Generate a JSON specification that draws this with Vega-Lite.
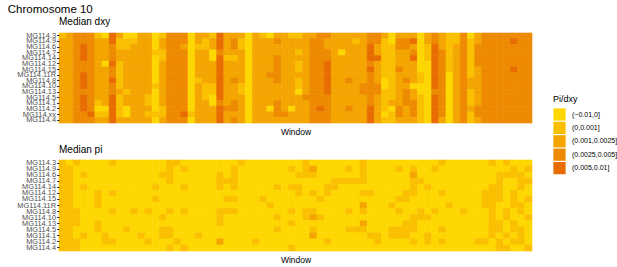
{
"$schema":"https://vega.github.io/schema/vega-lite/v6.json",
"padding":{"left":7,"top":3,"right":5,"bottom":4},
"background":"white",
"title":{"text":"Chromosome 10","anchor":"start","frame":"bounds","dx":-9,"font":"Liberation Sans","fontSize":11.5,"fontWeight":"normal","color":"#000000","offset":2},
"config":{
 "view":{"stroke":null},
 "font":"Liberation Sans",
 "title":{"font":"Liberation Sans","fontWeight":"normal","color":"#000000"},
 "axis":{"grid":false,"domain":false,"titleFont":"Liberation Sans","titleFontWeight":"normal","titleColor":"#000000","titleFontSize":8.5,"labelFont":"Liberation Sans"},
 "legend":{"titleFont":"Liberation Sans","labelFont":"Liberation Sans"}
},
"data":{"values":[
{"w":1,"s":"3","d":1,"p":1},{"w":1,"s":"9","d":2,"p":1},{"w":1,"s":"6","d":2,"p":1},{"w":1,"s":"7","d":2,"p":1},{"w":1,"s":"14","d":2,"p":1},{"w":1,"s":"12","d":2,"p":1},{"w":1,"s":"15","d":2,"p":1},{"w":1,"s":"11R","d":2,"p":1},{"w":1,"s":"8","d":2,"p":1},{"w":1,"s":"10","d":2,"p":1},{"w":1,"s":"13","d":2,"p":1},{"w":1,"s":"5","d":2,"p":1},{"w":1,"s":"1","d":2,"p":1},{"w":1,"s":"2","d":2,"p":1},{"w":1,"s":"xx","d":2},{"w":1,"s":"4","d":2,"p":1},
{"w":2,"s":"3","d":2,"p":0},{"w":2,"s":"9","d":2,"p":1},{"w":2,"s":"6","d":2,"p":1},{"w":2,"s":"7","d":2,"p":1},{"w":2,"s":"14","d":2,"p":1},{"w":2,"s":"12","d":2,"p":1},{"w":2,"s":"15","d":2,"p":1},{"w":2,"s":"11R","d":2,"p":1},{"w":2,"s":"8","d":2,"p":1},{"w":2,"s":"10","d":2,"p":1},{"w":2,"s":"13","d":2,"p":1},{"w":2,"s":"5","d":2,"p":1},{"w":2,"s":"1","d":2,"p":1},{"w":2,"s":"2","d":2,"p":1},{"w":2,"s":"xx","d":2},{"w":2,"s":"4","d":2,"p":1},
{"w":3,"s":"3","d":3,"p":1},{"w":3,"s":"9","d":3,"p":0},{"w":3,"s":"6","d":3,"p":0},{"w":3,"s":"7","d":3,"p":0},{"w":3,"s":"14","d":3,"p":0},{"w":3,"s":"12","d":3,"p":0},{"w":3,"s":"15","d":3,"p":0},{"w":3,"s":"11R","d":3,"p":0},{"w":3,"s":"8","d":3,"p":1},{"w":3,"s":"10","d":3,"p":1},{"w":3,"s":"13","d":3,"p":1},{"w":3,"s":"5","d":3,"p":0},{"w":3,"s":"1","d":3,"p":0},{"w":3,"s":"2","d":3,"p":1},{"w":3,"s":"xx","d":3},{"w":3,"s":"4","d":3,"p":1},
{"w":4,"s":"3","d":3,"p":0},{"w":4,"s":"9","d":3,"p":0},{"w":4,"s":"6","d":4,"p":1},{"w":4,"s":"7","d":4,"p":0},{"w":4,"s":"14","d":4,"p":1},{"w":4,"s":"12","d":3,"p":0},{"w":4,"s":"15","d":3,"p":0},{"w":4,"s":"11R","d":4,"p":0},{"w":4,"s":"8","d":4,"p":0},{"w":4,"s":"10","d":4,"p":0},{"w":4,"s":"13","d":3,"p":0},{"w":4,"s":"5","d":4,"p":0},{"w":4,"s":"1","d":4,"p":1},{"w":4,"s":"2","d":4,"p":0},{"w":4,"s":"xx","d":3},{"w":4,"s":"4","d":3,"p":0},
{"w":5,"s":"3","d":3,"p":0},{"w":5,"s":"9","d":3,"p":0},{"w":5,"s":"6","d":3,"p":0},{"w":5,"s":"7","d":3,"p":0},{"w":5,"s":"14","d":3,"p":0},{"w":5,"s":"12","d":3,"p":0},{"w":5,"s":"15","d":3,"p":0},{"w":5,"s":"11R","d":3,"p":0},{"w":5,"s":"8","d":3,"p":0},{"w":5,"s":"10","d":3,"p":0},{"w":5,"s":"13","d":3,"p":0},{"w":5,"s":"5","d":3,"p":0},{"w":5,"s":"1","d":3,"p":0},{"w":5,"s":"2","d":3,"p":0},{"w":5,"s":"xx","d":4},{"w":5,"s":"4","d":3,"p":0},
{"w":6,"s":"3","d":1,"p":0},{"w":6,"s":"9","d":2,"p":0},{"w":6,"s":"6","d":2,"p":0},{"w":6,"s":"7","d":2,"p":0},{"w":6,"s":"14","d":2,"p":0},{"w":6,"s":"12","d":2,"p":1},{"w":6,"s":"15","d":2,"p":1},{"w":6,"s":"11R","d":2,"p":1},{"w":6,"s":"8","d":2,"p":0},{"w":6,"s":"10","d":2,"p":0},{"w":6,"s":"13","d":2,"p":1},{"w":6,"s":"5","d":2,"p":1},{"w":6,"s":"1","d":1,"p":0},{"w":6,"s":"2","d":0,"p":0},{"w":6,"s":"xx","d":1},{"w":6,"s":"4","d":2,"p":0},
{"w":7,"s":"3","d":0,"p":0},{"w":7,"s":"9","d":2,"p":0},{"w":7,"s":"6","d":2,"p":0},{"w":7,"s":"7","d":2,"p":0},{"w":7,"s":"14","d":2,"p":0},{"w":7,"s":"12","d":0,"p":0},{"w":7,"s":"15","d":2,"p":0},{"w":7,"s":"11R","d":2,"p":0},{"w":7,"s":"8","d":2,"p":0},{"w":7,"s":"10","d":2,"p":0},{"w":7,"s":"13","d":2,"p":0},{"w":7,"s":"5","d":2,"p":0},{"w":7,"s":"1","d":2,"p":1},{"w":7,"s":"2","d":0,"p":1},{"w":7,"s":"xx","d":1},{"w":7,"s":"4","d":2,"p":0},
{"w":8,"s":"3","d":4,"p":1},{"w":8,"s":"9","d":4,"p":0},{"w":8,"s":"6","d":3,"p":0},{"w":8,"s":"7","d":3,"p":0},{"w":8,"s":"14","d":3,"p":0},{"w":8,"s":"12","d":4,"p":1},{"w":8,"s":"15","d":3,"p":0},{"w":8,"s":"11R","d":3,"p":0},{"w":8,"s":"8","d":4,"p":1},{"w":8,"s":"10","d":3,"p":0},{"w":8,"s":"13","d":3,"p":0},{"w":8,"s":"5","d":4,"p":0},{"w":8,"s":"1","d":4,"p":0},{"w":8,"s":"2","d":4,"p":1},{"w":8,"s":"xx","d":4},{"w":8,"s":"4","d":4,"p":0},
{"w":9,"s":"3","d":2,"p":0},{"w":9,"s":"9","d":1,"p":0},{"w":9,"s":"6","d":1,"p":0},{"w":9,"s":"7","d":2,"p":0},{"w":9,"s":"14","d":2,"p":0},{"w":9,"s":"12","d":1,"p":0},{"w":9,"s":"15","d":1,"p":0},{"w":9,"s":"11R","d":1,"p":0},{"w":9,"s":"8","d":1,"p":0},{"w":9,"s":"10","d":1,"p":0},{"w":9,"s":"13","d":2,"p":0},{"w":9,"s":"5","d":1,"p":0},{"w":9,"s":"1","d":1,"p":0},{"w":9,"s":"2","d":1,"p":0},{"w":9,"s":"xx","d":1},{"w":9,"s":"4","d":2,"p":0},
{"w":10,"s":"3","d":0,"p":0},{"w":10,"s":"9","d":1,"p":0},{"w":10,"s":"6","d":1,"p":0},{"w":10,"s":"7","d":2,"p":0},{"w":10,"s":"14","d":2,"p":0},{"w":10,"s":"12","d":2,"p":0},{"w":10,"s":"15","d":2,"p":0},{"w":10,"s":"11R","d":2,"p":0},{"w":10,"s":"8","d":2,"p":0},{"w":10,"s":"10","d":2,"p":0},{"w":10,"s":"13","d":1,"p":0},{"w":10,"s":"5","d":2,"p":1},{"w":10,"s":"1","d":2,"p":0},{"w":10,"s":"2","d":0,"p":0},{"w":10,"s":"xx","d":0},{"w":10,"s":"4","d":2,"p":0},
{"w":11,"s":"3","d":0,"p":0},{"w":11,"s":"9","d":1,"p":0},{"w":11,"s":"6","d":2,"p":0},{"w":11,"s":"7","d":2,"p":0},{"w":11,"s":"14","d":2,"p":0},{"w":11,"s":"12","d":2,"p":0},{"w":11,"s":"15","d":2,"p":0},{"w":11,"s":"11R","d":2,"p":0},{"w":11,"s":"8","d":2,"p":1},{"w":11,"s":"10","d":2,"p":0},{"w":11,"s":"13","d":2,"p":0},{"w":11,"s":"5","d":2,"p":0},{"w":11,"s":"1","d":2,"p":0},{"w":11,"s":"2","d":2,"p":0},{"w":11,"s":"xx","d":2},{"w":11,"s":"4","d":2,"p":0},
{"w":12,"s":"3","d":2,"p":0},{"w":12,"s":"9","d":2,"p":0},{"w":12,"s":"6","d":2,"p":0},{"w":12,"s":"7","d":2,"p":0},{"w":12,"s":"14","d":2,"p":0},{"w":12,"s":"12","d":2,"p":0},{"w":12,"s":"15","d":2,"p":0},{"w":12,"s":"11R","d":2,"p":0},{"w":12,"s":"8","d":2,"p":0},{"w":12,"s":"10","d":2,"p":0},{"w":12,"s":"13","d":2,"p":0},{"w":12,"s":"5","d":2,"p":0},{"w":12,"s":"1","d":2,"p":1},{"w":12,"s":"2","d":2,"p":0},{"w":12,"s":"xx","d":2},{"w":12,"s":"4","d":2,"p":0},
{"w":13,"s":"3","d":2,"p":0},{"w":13,"s":"9","d":2,"p":0},{"w":13,"s":"6","d":2,"p":0},{"w":13,"s":"7","d":2,"p":0},{"w":13,"s":"14","d":2,"p":0},{"w":13,"s":"12","d":2,"p":0},{"w":13,"s":"15","d":2,"p":0},{"w":13,"s":"11R","d":2,"p":0},{"w":13,"s":"8","d":2,"p":1},{"w":13,"s":"10","d":2,"p":0},{"w":13,"s":"13","d":2,"p":0},{"w":13,"s":"5","d":1,"p":0},{"w":13,"s":"1","d":1,"p":0},{"w":13,"s":"2","d":2,"p":1},{"w":13,"s":"xx","d":1},{"w":13,"s":"4","d":2,"p":0},
{"w":14,"s":"3","d":0,"p":0},{"w":14,"s":"9","d":0,"p":0},{"w":14,"s":"6","d":0,"p":0},{"w":14,"s":"7","d":1,"p":0},{"w":14,"s":"14","d":0,"p":1},{"w":14,"s":"12","d":0,"p":0},{"w":14,"s":"15","d":0,"p":1},{"w":14,"s":"11R","d":0,"p":0},{"w":14,"s":"8","d":0,"p":0},{"w":14,"s":"10","d":1,"p":0},{"w":14,"s":"13","d":0,"p":0},{"w":14,"s":"5","d":0,"p":0},{"w":14,"s":"1","d":0,"p":0},{"w":14,"s":"2","d":0,"p":0},{"w":14,"s":"xx","d":1},{"w":14,"s":"4","d":0,"p":0},
{"w":15,"s":"3","d":1,"p":0},{"w":15,"s":"9","d":2,"p":0},{"w":15,"s":"6","d":2,"p":1},{"w":15,"s":"7","d":1,"p":0},{"w":15,"s":"14","d":1,"p":0},{"w":15,"s":"12","d":2,"p":0},{"w":15,"s":"15","d":2,"p":0},{"w":15,"s":"11R","d":2,"p":0},{"w":15,"s":"8","d":2,"p":0},{"w":15,"s":"10","d":2,"p":1},{"w":15,"s":"13","d":2,"p":0},{"w":15,"s":"5","d":2,"p":1},{"w":15,"s":"1","d":2,"p":1},{"w":15,"s":"2","d":1,"p":0},{"w":15,"s":"xx","d":1},{"w":15,"s":"4","d":2,"p":0},
{"w":16,"s":"3","d":3,"p":1},{"w":16,"s":"9","d":3,"p":1},{"w":16,"s":"6","d":3,"p":1},{"w":16,"s":"7","d":3,"p":1},{"w":16,"s":"14","d":3,"p":0},{"w":16,"s":"12","d":3,"p":0},{"w":16,"s":"15","d":3,"p":0},{"w":16,"s":"11R","d":3,"p":0},{"w":16,"s":"8","d":3,"p":1},{"w":16,"s":"10","d":3,"p":0},{"w":16,"s":"13","d":3,"p":0},{"w":16,"s":"5","d":3,"p":1},{"w":16,"s":"1","d":3,"p":1},{"w":16,"s":"2","d":3,"p":0},{"w":16,"s":"xx","d":3},{"w":16,"s":"4","d":3,"p":1},
{"w":17,"s":"3","d":3,"p":1},{"w":17,"s":"9","d":3,"p":0},{"w":17,"s":"6","d":3,"p":0},{"w":17,"s":"7","d":3,"p":0},{"w":17,"s":"14","d":3,"p":0},{"w":17,"s":"12","d":3,"p":0},{"w":17,"s":"15","d":3,"p":0},{"w":17,"s":"11R","d":3,"p":0},{"w":17,"s":"8","d":3,"p":0},{"w":17,"s":"10","d":3,"p":0},{"w":17,"s":"13","d":3,"p":0},{"w":17,"s":"5","d":3,"p":0},{"w":17,"s":"1","d":3,"p":0},{"w":17,"s":"2","d":3,"p":1},{"w":17,"s":"xx","d":3},{"w":17,"s":"4","d":3,"p":0},
{"w":18,"s":"3","d":3,"p":0},{"w":18,"s":"9","d":3,"p":1},{"w":18,"s":"6","d":2,"p":0},{"w":18,"s":"7","d":3,"p":0},{"w":18,"s":"14","d":3,"p":1},{"w":18,"s":"12","d":3,"p":0},{"w":18,"s":"15","d":3,"p":0},{"w":18,"s":"11R","d":3,"p":0},{"w":18,"s":"8","d":3,"p":1},{"w":18,"s":"10","d":3,"p":0},{"w":18,"s":"13","d":3,"p":0},{"w":18,"s":"5","d":3,"p":0},{"w":18,"s":"1","d":3,"p":0},{"w":18,"s":"2","d":3,"p":0},{"w":18,"s":"xx","d":4},{"w":18,"s":"4","d":3,"p":1},
{"w":19,"s":"3","d":0,"p":0},{"w":19,"s":"9","d":0,"p":0},{"w":19,"s":"6","d":0,"p":0},{"w":19,"s":"7","d":0,"p":0},{"w":19,"s":"14","d":0,"p":0},{"w":19,"s":"12","d":0,"p":0},{"w":19,"s":"15","d":0,"p":0},{"w":19,"s":"11R","d":0,"p":0},{"w":19,"s":"8","d":0,"p":0},{"w":19,"s":"10","d":0,"p":0},{"w":19,"s":"13","d":0,"p":0},{"w":19,"s":"5","d":0,"p":0},{"w":19,"s":"1","d":0,"p":0},{"w":19,"s":"2","d":0,"p":0},{"w":19,"s":"xx","d":1},{"w":19,"s":"4","d":0,"p":0},
{"w":20,"s":"3","d":2,"p":0},{"w":20,"s":"9","d":2,"p":0},{"w":20,"s":"6","d":1,"p":0},{"w":20,"s":"7","d":2,"p":0},{"w":20,"s":"14","d":2,"p":0},{"w":20,"s":"12","d":2,"p":0},{"w":20,"s":"15","d":2,"p":0},{"w":20,"s":"11R","d":2,"p":0},{"w":20,"s":"8","d":1,"p":0},{"w":20,"s":"10","d":2,"p":0},{"w":20,"s":"13","d":2,"p":0},{"w":20,"s":"5","d":2,"p":0},{"w":20,"s":"1","d":2,"p":1},{"w":20,"s":"2","d":2,"p":0},{"w":20,"s":"xx","d":2},{"w":20,"s":"4","d":2,"p":0},
{"w":21,"s":"3","d":2,"p":0},{"w":21,"s":"9","d":1,"p":0},{"w":21,"s":"6","d":1,"p":0},{"w":21,"s":"7","d":2,"p":0},{"w":21,"s":"14","d":2,"p":0},{"w":21,"s":"12","d":2,"p":0},{"w":21,"s":"15","d":2,"p":0},{"w":21,"s":"11R","d":2,"p":0},{"w":21,"s":"8","d":2,"p":0},{"w":21,"s":"10","d":1,"p":0},{"w":21,"s":"13","d":1,"p":0},{"w":21,"s":"5","d":1,"p":0},{"w":21,"s":"1","d":2,"p":0},{"w":21,"s":"2","d":2,"p":0},{"w":21,"s":"xx","d":2},{"w":21,"s":"4","d":2,"p":0},
{"w":22,"s":"3","d":1,"p":0},{"w":22,"s":"9","d":2,"p":0},{"w":22,"s":"6","d":2,"p":0},{"w":22,"s":"7","d":0,"p":0},{"w":22,"s":"14","d":0,"p":0},{"w":22,"s":"12","d":2,"p":0},{"w":22,"s":"15","d":2,"p":0},{"w":22,"s":"11R","d":2,"p":0},{"w":22,"s":"8","d":2,"p":0},{"w":22,"s":"10","d":1,"p":0},{"w":22,"s":"13","d":1,"p":0},{"w":22,"s":"5","d":0,"p":0},{"w":22,"s":"1","d":0,"p":0},{"w":22,"s":"2","d":2,"p":0},{"w":22,"s":"xx","d":2},{"w":22,"s":"4","d":2,"p":0},
{"w":23,"s":"3","d":4,"p":0},{"w":23,"s":"9","d":4,"p":0},{"w":23,"s":"6","d":4,"p":1},{"w":23,"s":"7","d":3,"p":1},{"w":23,"s":"14","d":4,"p":1},{"w":23,"s":"12","d":4,"p":0},{"w":23,"s":"15","d":4,"p":0},{"w":23,"s":"11R","d":4,"p":0},{"w":23,"s":"8","d":4,"p":1},{"w":23,"s":"10","d":4,"p":1},{"w":23,"s":"13","d":4,"p":1},{"w":23,"s":"5","d":4,"p":0},{"w":23,"s":"1","d":3,"p":0},{"w":23,"s":"2","d":4,"p":2},{"w":23,"s":"xx","d":4},{"w":23,"s":"4","d":4,"p":0},
{"w":24,"s":"3","d":2,"p":0},{"w":24,"s":"9","d":2,"p":0},{"w":24,"s":"6","d":2,"p":0},{"w":24,"s":"7","d":2,"p":1},{"w":24,"s":"14","d":1,"p":0},{"w":24,"s":"12","d":2,"p":0},{"w":24,"s":"15","d":2,"p":1},{"w":24,"s":"11R","d":2,"p":0},{"w":24,"s":"8","d":2,"p":1},{"w":24,"s":"10","d":2,"p":0},{"w":24,"s":"13","d":2,"p":0},{"w":24,"s":"5","d":2,"p":0},{"w":24,"s":"1","d":2,"p":0},{"w":24,"s":"2","d":3,"p":0},{"w":24,"s":"xx","d":2},{"w":24,"s":"4","d":2,"p":0},
{"w":25,"s":"3","d":2,"p":0},{"w":25,"s":"9","d":3,"p":1},{"w":25,"s":"6","d":3,"p":1},{"w":25,"s":"7","d":2,"p":1},{"w":25,"s":"14","d":1,"p":1},{"w":25,"s":"12","d":2,"p":0},{"w":25,"s":"15","d":2,"p":1},{"w":25,"s":"11R","d":2,"p":0},{"w":25,"s":"8","d":3,"p":1},{"w":25,"s":"10","d":2,"p":0},{"w":25,"s":"13","d":2,"p":0},{"w":25,"s":"5","d":2,"p":0},{"w":25,"s":"1","d":3,"p":0},{"w":25,"s":"2","d":3,"p":0},{"w":25,"s":"xx","d":2},{"w":25,"s":"4","d":3,"p":0},
{"w":26,"s":"3","d":2,"p":1},{"w":26,"s":"9","d":1,"p":0},{"w":26,"s":"6","d":1,"p":0},{"w":26,"s":"7","d":2,"p":0},{"w":26,"s":"14","d":2,"p":0},{"w":26,"s":"12","d":2,"p":0},{"w":26,"s":"15","d":2,"p":0},{"w":26,"s":"11R","d":2,"p":0},{"w":26,"s":"8","d":2,"p":0},{"w":26,"s":"10","d":1,"p":0},{"w":26,"s":"13","d":1,"p":0},{"w":26,"s":"5","d":2,"p":0},{"w":26,"s":"1","d":2,"p":0},{"w":26,"s":"2","d":2,"p":0},{"w":26,"s":"xx","d":2},{"w":26,"s":"4","d":2,"p":0},
{"w":27,"s":"3","d":0,"p":0},{"w":27,"s":"9","d":0,"p":0},{"w":27,"s":"6","d":0,"p":0},{"w":27,"s":"7","d":0,"p":0},{"w":27,"s":"14","d":0,"p":0},{"w":27,"s":"12","d":0,"p":0},{"w":27,"s":"15","d":0,"p":0},{"w":27,"s":"11R","d":0,"p":0},{"w":27,"s":"8","d":0,"p":0},{"w":27,"s":"10","d":0,"p":0},{"w":27,"s":"13","d":0,"p":0},{"w":27,"s":"5","d":0,"p":0},{"w":27,"s":"1","d":0,"p":0},{"w":27,"s":"2","d":0,"p":0},{"w":27,"s":"xx","d":0},{"w":27,"s":"4","d":0,"p":0},
{"w":28,"s":"3","d":2,"p":0},{"w":28,"s":"9","d":2,"p":0},{"w":28,"s":"6","d":2,"p":0},{"w":28,"s":"7","d":2,"p":0},{"w":28,"s":"14","d":2,"p":0},{"w":28,"s":"12","d":2,"p":0},{"w":28,"s":"15","d":2,"p":0},{"w":28,"s":"11R","d":2,"p":0},{"w":28,"s":"8","d":2,"p":0},{"w":28,"s":"10","d":2,"p":0},{"w":28,"s":"13","d":2,"p":0},{"w":28,"s":"5","d":2,"p":0},{"w":28,"s":"1","d":2,"p":0},{"w":28,"s":"2","d":2,"p":1},{"w":28,"s":"xx","d":2},{"w":28,"s":"4","d":2,"p":0},
{"w":29,"s":"3","d":1,"p":0},{"w":29,"s":"9","d":2,"p":0},{"w":29,"s":"6","d":2,"p":0},{"w":29,"s":"7","d":2,"p":0},{"w":29,"s":"14","d":2,"p":0},{"w":29,"s":"12","d":2,"p":0},{"w":29,"s":"15","d":2,"p":1},{"w":29,"s":"11R","d":2,"p":0},{"w":29,"s":"8","d":2,"p":0},{"w":29,"s":"10","d":2,"p":0},{"w":29,"s":"13","d":2,"p":0},{"w":29,"s":"5","d":2,"p":0},{"w":29,"s":"1","d":2,"p":0},{"w":29,"s":"2","d":2,"p":0},{"w":29,"s":"xx","d":2},{"w":29,"s":"4","d":2,"p":0},
{"w":30,"s":"3","d":0,"p":0},{"w":30,"s":"9","d":2,"p":0},{"w":30,"s":"6","d":2,"p":0},{"w":30,"s":"7","d":2,"p":0},{"w":30,"s":"14","d":2,"p":0},{"w":30,"s":"12","d":2,"p":0},{"w":30,"s":"15","d":2,"p":0},{"w":30,"s":"11R","d":3,"p":1},{"w":30,"s":"8","d":2,"p":0},{"w":30,"s":"10","d":2,"p":0},{"w":30,"s":"13","d":2,"p":0},{"w":30,"s":"5","d":2,"p":0},{"w":30,"s":"1","d":2,"p":0},{"w":30,"s":"2","d":0,"p":0},{"w":30,"s":"xx","d":2},{"w":30,"s":"4","d":2,"p":0},
{"w":31,"s":"3","d":2,"p":0},{"w":31,"s":"9","d":3,"p":0},{"w":31,"s":"6","d":2,"p":0},{"w":31,"s":"7","d":2,"p":0},{"w":31,"s":"14","d":3,"p":1},{"w":31,"s":"12","d":3,"p":0},{"w":31,"s":"15","d":3,"p":0},{"w":31,"s":"11R","d":3,"p":0},{"w":31,"s":"8","d":3,"p":0},{"w":31,"s":"10","d":2,"p":1},{"w":31,"s":"13","d":2,"p":0},{"w":31,"s":"5","d":2,"p":1},{"w":31,"s":"1","d":3,"p":0},{"w":31,"s":"2","d":3,"p":0},{"w":31,"s":"xx","d":3},{"w":31,"s":"4","d":2,"p":0},
{"w":32,"s":"3","d":2,"p":0},{"w":32,"s":"9","d":2,"p":0},{"w":32,"s":"6","d":2,"p":0},{"w":32,"s":"7","d":2,"p":0},{"w":32,"s":"14","d":2,"p":0},{"w":32,"s":"12","d":2,"p":0},{"w":32,"s":"15","d":2,"p":0},{"w":32,"s":"11R","d":2,"p":0},{"w":32,"s":"8","d":2,"p":0},{"w":32,"s":"10","d":2,"p":0},{"w":32,"s":"13","d":2,"p":0},{"w":32,"s":"5","d":2,"p":0},{"w":32,"s":"1","d":2,"p":0},{"w":32,"s":"2","d":2,"p":0},{"w":32,"s":"xx","d":3},{"w":32,"s":"4","d":2,"p":0},
{"w":33,"s":"3","d":1,"p":0},{"w":33,"s":"9","d":2,"p":1},{"w":33,"s":"6","d":2,"p":0},{"w":33,"s":"7","d":2,"p":0},{"w":33,"s":"14","d":2,"p":1},{"w":33,"s":"12","d":2,"p":0},{"w":33,"s":"15","d":2,"p":0},{"w":33,"s":"11R","d":2,"p":0},{"w":33,"s":"8","d":2,"p":1},{"w":33,"s":"10","d":2,"p":0},{"w":33,"s":"13","d":2,"p":1},{"w":33,"s":"5","d":2,"p":0},{"w":33,"s":"1","d":2,"p":0},{"w":33,"s":"2","d":0,"p":0},{"w":33,"s":"xx","d":2},{"w":33,"s":"4","d":2,"p":1},
{"w":34,"s":"3","d":1,"p":0},{"w":34,"s":"9","d":2,"p":0},{"w":34,"s":"6","d":2,"p":1},{"w":34,"s":"7","d":1,"p":0},{"w":34,"s":"14","d":2,"p":1},{"w":34,"s":"12","d":1,"p":1},{"w":34,"s":"15","d":1,"p":0},{"w":34,"s":"11R","d":2,"p":0},{"w":34,"s":"8","d":1,"p":0},{"w":34,"s":"10","d":1,"p":0},{"w":34,"s":"13","d":0,"p":0},{"w":34,"s":"5","d":2,"p":0},{"w":34,"s":"1","d":2,"p":0},{"w":34,"s":"2","d":2,"p":0},{"w":34,"s":"xx","d":2},{"w":34,"s":"4","d":2,"p":0},
{"w":35,"s":"3","d":2,"p":1},{"w":35,"s":"9","d":2,"p":1},{"w":35,"s":"6","d":2,"p":1},{"w":35,"s":"7","d":2,"p":0},{"w":35,"s":"14","d":2,"p":0},{"w":35,"s":"12","d":2,"p":0},{"w":35,"s":"15","d":2,"p":0},{"w":35,"s":"11R","d":2,"p":0},{"w":35,"s":"8","d":2,"p":1},{"w":35,"s":"10","d":2,"p":1},{"w":35,"s":"13","d":2,"p":0},{"w":35,"s":"5","d":3,"p":0},{"w":35,"s":"1","d":2,"p":0},{"w":35,"s":"2","d":2,"p":0},{"w":35,"s":"xx","d":2},{"w":35,"s":"4","d":2,"p":0},
{"w":36,"s":"3","d":2,"p":0},{"w":36,"s":"9","d":3,"p":2},{"w":36,"s":"6","d":3,"p":1},{"w":36,"s":"7","d":3,"p":0},{"w":36,"s":"14","d":3,"p":0},{"w":36,"s":"12","d":3,"p":1},{"w":36,"s":"15","d":3,"p":0},{"w":36,"s":"11R","d":3,"p":0},{"w":36,"s":"8","d":3,"p":1},{"w":36,"s":"10","d":3,"p":2},{"w":36,"s":"13","d":3,"p":0},{"w":36,"s":"5","d":3,"p":1},{"w":36,"s":"1","d":3,"p":2},{"w":36,"s":"2","d":3,"p":0},{"w":36,"s":"xx","d":3},{"w":36,"s":"4","d":3,"p":0},
{"w":37,"s":"3","d":3,"p":0},{"w":37,"s":"9","d":3,"p":0},{"w":37,"s":"6","d":3,"p":0},{"w":37,"s":"7","d":3,"p":0},{"w":37,"s":"14","d":3,"p":0},{"w":37,"s":"12","d":3,"p":0},{"w":37,"s":"15","d":3,"p":1},{"w":37,"s":"11R","d":3,"p":0},{"w":37,"s":"8","d":3,"p":0},{"w":37,"s":"10","d":3,"p":1},{"w":37,"s":"13","d":3,"p":0},{"w":37,"s":"5","d":3,"p":0},{"w":37,"s":"1","d":3,"p":0},{"w":37,"s":"2","d":4,"p":0},{"w":37,"s":"xx","d":3},{"w":37,"s":"4","d":3,"p":0},
{"w":38,"s":"3","d":3,"p":0},{"w":38,"s":"9","d":2,"p":0},{"w":38,"s":"6","d":2,"p":0},{"w":38,"s":"7","d":3,"p":0},{"w":38,"s":"14","d":3,"p":1},{"w":38,"s":"12","d":4,"p":1},{"w":38,"s":"15","d":4,"p":0},{"w":38,"s":"11R","d":4,"p":0},{"w":38,"s":"8","d":4,"p":0},{"w":38,"s":"10","d":4,"p":0},{"w":38,"s":"13","d":4,"p":0},{"w":38,"s":"5","d":3,"p":0},{"w":38,"s":"1","d":3,"p":0},{"w":38,"s":"2","d":3,"p":1},{"w":38,"s":"xx","d":3},{"w":38,"s":"4","d":3,"p":0},
{"w":39,"s":"3","d":2,"p":0},{"w":39,"s":"9","d":2,"p":0},{"w":39,"s":"6","d":2,"p":0},{"w":39,"s":"7","d":2,"p":1},{"w":39,"s":"14","d":2,"p":1},{"w":39,"s":"12","d":2,"p":0},{"w":39,"s":"15","d":2,"p":0},{"w":39,"s":"11R","d":2,"p":0},{"w":39,"s":"8","d":2,"p":0},{"w":39,"s":"10","d":2,"p":0},{"w":39,"s":"13","d":2,"p":0},{"w":39,"s":"5","d":2,"p":0},{"w":39,"s":"1","d":2,"p":0},{"w":39,"s":"2","d":2,"p":0},{"w":39,"s":"xx","d":2},{"w":39,"s":"4","d":2,"p":0},
{"w":40,"s":"3","d":2,"p":0},{"w":40,"s":"9","d":2,"p":0},{"w":40,"s":"6","d":2,"p":0},{"w":40,"s":"7","d":0,"p":1},{"w":40,"s":"14","d":2,"p":0},{"w":40,"s":"12","d":2,"p":0},{"w":40,"s":"15","d":2,"p":0},{"w":40,"s":"11R","d":2,"p":0},{"w":40,"s":"8","d":2,"p":0},{"w":40,"s":"10","d":2,"p":0},{"w":40,"s":"13","d":2,"p":0},{"w":40,"s":"5","d":2,"p":0},{"w":40,"s":"1","d":2,"p":0},{"w":40,"s":"2","d":2,"p":0},{"w":40,"s":"xx","d":2},{"w":40,"s":"4","d":2,"p":0},
{"w":41,"s":"3","d":2,"p":0},{"w":41,"s":"9","d":2,"p":1},{"w":41,"s":"6","d":2,"p":0},{"w":41,"s":"7","d":2,"p":1},{"w":41,"s":"14","d":2,"p":0},{"w":41,"s":"12","d":2,"p":0},{"w":41,"s":"15","d":2,"p":0},{"w":41,"s":"11R","d":2,"p":0},{"w":41,"s":"8","d":3,"p":1},{"w":41,"s":"10","d":2,"p":0},{"w":41,"s":"13","d":2,"p":0},{"w":41,"s":"5","d":2,"p":1},{"w":41,"s":"1","d":2,"p":0},{"w":41,"s":"2","d":3,"p":0},{"w":41,"s":"xx","d":2},{"w":41,"s":"4","d":2,"p":0},
{"w":42,"s":"3","d":2,"p":0},{"w":42,"s":"9","d":1,"p":0},{"w":42,"s":"6","d":2,"p":0},{"w":42,"s":"7","d":2,"p":1},{"w":42,"s":"14","d":2,"p":0},{"w":42,"s":"12","d":2,"p":0},{"w":42,"s":"15","d":2,"p":0},{"w":42,"s":"11R","d":2,"p":0},{"w":42,"s":"8","d":2,"p":0},{"w":42,"s":"10","d":2,"p":0},{"w":42,"s":"13","d":2,"p":0},{"w":42,"s":"5","d":2,"p":1},{"w":42,"s":"1","d":2,"p":0},{"w":42,"s":"2","d":2,"p":0},{"w":42,"s":"xx","d":2},{"w":42,"s":"4","d":2,"p":0},
{"w":43,"s":"3","d":2,"p":1},{"w":43,"s":"9","d":2,"p":1},{"w":43,"s":"6","d":2,"p":1},{"w":43,"s":"7","d":2,"p":1},{"w":43,"s":"14","d":2,"p":0},{"w":43,"s":"12","d":2,"p":1},{"w":43,"s":"15","d":2,"p":0},{"w":43,"s":"11R","d":2,"p":2},{"w":43,"s":"8","d":2,"p":1},{"w":43,"s":"10","d":3,"p":0},{"w":43,"s":"13","d":3,"p":2},{"w":43,"s":"5","d":2,"p":1},{"w":43,"s":"1","d":2,"p":0},{"w":43,"s":"2","d":2,"p":0},{"w":43,"s":"xx","d":2},{"w":43,"s":"4","d":2,"p":0},
{"w":44,"s":"3","d":3,"p":0},{"w":44,"s":"9","d":3,"p":0},{"w":44,"s":"6","d":4,"p":0},{"w":44,"s":"7","d":4,"p":0},{"w":44,"s":"14","d":4,"p":0},{"w":44,"s":"12","d":3,"p":1},{"w":44,"s":"15","d":4,"p":0},{"w":44,"s":"11R","d":3,"p":0},{"w":44,"s":"8","d":3,"p":0},{"w":44,"s":"10","d":3,"p":0},{"w":44,"s":"13","d":3,"p":0},{"w":44,"s":"5","d":3,"p":0},{"w":44,"s":"1","d":3,"p":1},{"w":44,"s":"2","d":4,"p":0},{"w":44,"s":"xx","d":4},{"w":44,"s":"4","d":4,"p":0},
{"w":45,"s":"3","d":3,"p":0},{"w":45,"s":"9","d":3,"p":0},{"w":45,"s":"6","d":2,"p":0},{"w":45,"s":"7","d":2,"p":0},{"w":45,"s":"14","d":4,"p":0},{"w":45,"s":"12","d":2,"p":0},{"w":45,"s":"15","d":2,"p":0},{"w":45,"s":"11R","d":2,"p":0},{"w":45,"s":"8","d":2,"p":0},{"w":45,"s":"10","d":3,"p":0},{"w":45,"s":"13","d":3,"p":0},{"w":45,"s":"5","d":2,"p":0},{"w":45,"s":"1","d":2,"p":1},{"w":45,"s":"2","d":2,"p":1},{"w":45,"s":"xx","d":2},{"w":45,"s":"4","d":2,"p":0},
{"w":46,"s":"3","d":2,"p":0},{"w":46,"s":"9","d":1,"p":0},{"w":46,"s":"6","d":1,"p":0},{"w":46,"s":"7","d":1,"p":0},{"w":46,"s":"14","d":1,"p":0},{"w":46,"s":"12","d":1,"p":0},{"w":46,"s":"15","d":1,"p":0},{"w":46,"s":"11R","d":1,"p":0},{"w":46,"s":"8","d":0,"p":0},{"w":46,"s":"10","d":0,"p":0},{"w":46,"s":"13","d":1,"p":0},{"w":46,"s":"5","d":1,"p":0},{"w":46,"s":"1","d":1,"p":0},{"w":46,"s":"2","d":1,"p":0},{"w":46,"s":"xx","d":0},{"w":46,"s":"4","d":1,"p":0},
{"w":47,"s":"3","d":0,"p":0},{"w":47,"s":"9","d":0,"p":0},{"w":47,"s":"6","d":1,"p":0},{"w":47,"s":"7","d":1,"p":0},{"w":47,"s":"14","d":1,"p":0},{"w":47,"s":"12","d":1,"p":0},{"w":47,"s":"15","d":1,"p":0},{"w":47,"s":"11R","d":1,"p":1},{"w":47,"s":"8","d":1,"p":0},{"w":47,"s":"10","d":1,"p":0},{"w":47,"s":"13","d":1,"p":0},{"w":47,"s":"5","d":1,"p":1},{"w":47,"s":"1","d":2,"p":1},{"w":47,"s":"2","d":0,"p":0},{"w":47,"s":"xx","d":1},{"w":47,"s":"4","d":1,"p":0},
{"w":48,"s":"3","d":2,"p":0},{"w":48,"s":"9","d":3,"p":1},{"w":48,"s":"6","d":3,"p":0},{"w":48,"s":"7","d":2,"p":0},{"w":48,"s":"14","d":2,"p":0},{"w":48,"s":"12","d":2,"p":0},{"w":48,"s":"15","d":3,"p":1},{"w":48,"s":"11R","d":2,"p":0},{"w":48,"s":"8","d":2,"p":1},{"w":48,"s":"10","d":2,"p":0},{"w":48,"s":"13","d":2,"p":0},{"w":48,"s":"5","d":2,"p":1},{"w":48,"s":"1","d":2,"p":1},{"w":48,"s":"2","d":3,"p":0},{"w":48,"s":"xx","d":3},{"w":48,"s":"4","d":2,"p":0},
{"w":49,"s":"3","d":2,"p":0},{"w":49,"s":"9","d":3,"p":0},{"w":49,"s":"6","d":3,"p":0},{"w":49,"s":"7","d":2,"p":0},{"w":49,"s":"14","d":2,"p":0},{"w":49,"s":"12","d":2,"p":1},{"w":49,"s":"15","d":2,"p":1},{"w":49,"s":"11R","d":2,"p":0},{"w":49,"s":"8","d":3,"p":0},{"w":49,"s":"10","d":2,"p":0},{"w":49,"s":"13","d":3,"p":1},{"w":49,"s":"5","d":3,"p":1},{"w":49,"s":"1","d":3,"p":1},{"w":49,"s":"2","d":2,"p":0},{"w":49,"s":"xx","d":2},{"w":49,"s":"4","d":2,"p":0},
{"w":50,"s":"3","d":2,"p":0},{"w":50,"s":"9","d":4,"p":1},{"w":50,"s":"6","d":2,"p":2},{"w":50,"s":"7","d":3,"p":1},{"w":50,"s":"14","d":4,"p":1},{"w":50,"s":"12","d":2,"p":1},{"w":50,"s":"15","d":2,"p":0},{"w":50,"s":"11R","d":2,"p":0},{"w":50,"s":"8","d":2,"p":0},{"w":50,"s":"10","d":0,"p":1},{"w":50,"s":"13","d":2,"p":1},{"w":50,"s":"5","d":2,"p":1},{"w":50,"s":"1","d":3,"p":0},{"w":50,"s":"2","d":3,"p":1},{"w":50,"s":"xx","d":3},{"w":50,"s":"4","d":2,"p":0},
{"w":51,"s":"3","d":0,"p":0},{"w":51,"s":"9","d":0,"p":0},{"w":51,"s":"6","d":0,"p":0},{"w":51,"s":"7","d":0,"p":1},{"w":51,"s":"14","d":0,"p":0},{"w":51,"s":"12","d":0,"p":0},{"w":51,"s":"15","d":0,"p":0},{"w":51,"s":"11R","d":1,"p":0},{"w":51,"s":"8","d":1,"p":1},{"w":51,"s":"10","d":0,"p":1},{"w":51,"s":"13","d":0,"p":0},{"w":51,"s":"5","d":1,"p":0},{"w":51,"s":"1","d":1,"p":0},{"w":51,"s":"2","d":1,"p":0},{"w":51,"s":"xx","d":1},{"w":51,"s":"4","d":1,"p":0},
{"w":52,"s":"3","d":2,"p":0},{"w":52,"s":"9","d":2,"p":0},{"w":52,"s":"6","d":1,"p":0},{"w":52,"s":"7","d":1,"p":0},{"w":52,"s":"14","d":1,"p":1},{"w":52,"s":"12","d":0,"p":0},{"w":52,"s":"15","d":0,"p":0},{"w":52,"s":"11R","d":0,"p":0},{"w":52,"s":"8","d":0,"p":0},{"w":52,"s":"10","d":0,"p":1},{"w":52,"s":"13","d":0,"p":0},{"w":52,"s":"5","d":0,"p":0},{"w":52,"s":"1","d":0,"p":1},{"w":52,"s":"2","d":0,"p":1},{"w":52,"s":"xx","d":0},{"w":52,"s":"4","d":0,"p":0},
{"w":53,"s":"3","d":3,"p":0},{"w":53,"s":"9","d":3,"p":1},{"w":53,"s":"6","d":4,"p":0},{"w":53,"s":"7","d":4,"p":0},{"w":53,"s":"14","d":4,"p":0},{"w":53,"s":"12","d":4,"p":0},{"w":53,"s":"15","d":4,"p":0},{"w":53,"s":"11R","d":4,"p":0},{"w":53,"s":"8","d":4,"p":1},{"w":53,"s":"10","d":4,"p":0},{"w":53,"s":"13","d":3,"p":0},{"w":53,"s":"5","d":4,"p":0},{"w":53,"s":"1","d":4,"p":0},{"w":53,"s":"2","d":4,"p":0},{"w":53,"s":"xx","d":4},{"w":53,"s":"4","d":4,"p":0},
{"w":54,"s":"3","d":2,"p":1},{"w":54,"s":"9","d":2,"p":0},{"w":54,"s":"6","d":2,"p":0},{"w":54,"s":"7","d":3,"p":0},{"w":54,"s":"14","d":3,"p":0},{"w":54,"s":"12","d":3,"p":1},{"w":54,"s":"15","d":3,"p":0},{"w":54,"s":"11R","d":3,"p":0},{"w":54,"s":"8","d":3,"p":0},{"w":54,"s":"10","d":3,"p":0},{"w":54,"s":"13","d":3,"p":0},{"w":54,"s":"5","d":3,"p":1},{"w":54,"s":"1","d":3,"p":0},{"w":54,"s":"2","d":3,"p":1},{"w":54,"s":"xx","d":3},{"w":54,"s":"4","d":2,"p":0},
{"w":55,"s":"3","d":1,"p":0},{"w":55,"s":"9","d":1,"p":0},{"w":55,"s":"6","d":1,"p":0},{"w":55,"s":"7","d":1,"p":0},{"w":55,"s":"14","d":1,"p":0},{"w":55,"s":"12","d":1,"p":0},{"w":55,"s":"15","d":1,"p":0},{"w":55,"s":"11R","d":0,"p":1},{"w":55,"s":"8","d":0,"p":0},{"w":55,"s":"10","d":0,"p":0},{"w":55,"s":"13","d":0,"p":0},{"w":55,"s":"5","d":0,"p":0},{"w":55,"s":"1","d":0,"p":0},{"w":55,"s":"2","d":0,"p":0},{"w":55,"s":"xx","d":0},{"w":55,"s":"4","d":0,"p":0},
{"w":56,"s":"3","d":1,"p":0},{"w":56,"s":"9","d":1,"p":0},{"w":56,"s":"6","d":2,"p":0},{"w":56,"s":"7","d":2,"p":0},{"w":56,"s":"14","d":2,"p":0},{"w":56,"s":"12","d":2,"p":0},{"w":56,"s":"15","d":2,"p":0},{"w":56,"s":"11R","d":2,"p":0},{"w":56,"s":"8","d":2,"p":0},{"w":56,"s":"10","d":2,"p":0},{"w":56,"s":"13","d":2,"p":0},{"w":56,"s":"5","d":2,"p":0},{"w":56,"s":"1","d":2,"p":0},{"w":56,"s":"2","d":2,"p":0},{"w":56,"s":"xx","d":2},{"w":56,"s":"4","d":2,"p":0},
{"w":57,"s":"3","d":3,"p":0},{"w":57,"s":"9","d":3,"p":0},{"w":57,"s":"6","d":3,"p":0},{"w":57,"s":"7","d":3,"p":0},{"w":57,"s":"14","d":3,"p":0},{"w":57,"s":"12","d":3,"p":0},{"w":57,"s":"15","d":3,"p":0},{"w":57,"s":"11R","d":3,"p":0},{"w":57,"s":"8","d":3,"p":1},{"w":57,"s":"10","d":3,"p":0},{"w":57,"s":"13","d":3,"p":0},{"w":57,"s":"5","d":3,"p":0},{"w":57,"s":"1","d":3,"p":0},{"w":57,"s":"2","d":3,"p":0},{"w":57,"s":"xx","d":3},{"w":57,"s":"4","d":3,"p":0},
{"w":58,"s":"3","d":0,"p":0},{"w":58,"s":"9","d":1,"p":0},{"w":58,"s":"6","d":1,"p":0},{"w":58,"s":"7","d":1,"p":0},{"w":58,"s":"14","d":1,"p":0},{"w":58,"s":"12","d":1,"p":0},{"w":58,"s":"15","d":1,"p":0},{"w":58,"s":"11R","d":1,"p":0},{"w":58,"s":"8","d":2,"p":0},{"w":58,"s":"10","d":2,"p":0},{"w":58,"s":"13","d":1,"p":0},{"w":58,"s":"5","d":1,"p":0},{"w":58,"s":"1","d":1,"p":0},{"w":58,"s":"2","d":2,"p":0},{"w":58,"s":"xx","d":1},{"w":58,"s":"4","d":1,"p":0},
{"w":59,"s":"3","d":2,"p":0},{"w":59,"s":"9","d":2,"p":0},{"w":59,"s":"6","d":3,"p":0},{"w":59,"s":"7","d":3,"p":0},{"w":59,"s":"14","d":3,"p":0},{"w":59,"s":"12","d":3,"p":0},{"w":59,"s":"15","d":2,"p":0},{"w":59,"s":"11R","d":2,"p":0},{"w":59,"s":"8","d":2,"p":0},{"w":59,"s":"10","d":2,"p":0},{"w":59,"s":"13","d":2,"p":0},{"w":59,"s":"5","d":2,"p":0},{"w":59,"s":"1","d":2,"p":0},{"w":59,"s":"2","d":3,"p":1},{"w":59,"s":"xx","d":3},{"w":59,"s":"4","d":2,"p":0},
{"w":60,"s":"3","d":3,"p":0},{"w":60,"s":"9","d":3,"p":0},{"w":60,"s":"6","d":3,"p":0},{"w":60,"s":"7","d":3,"p":0},{"w":60,"s":"14","d":3,"p":0},{"w":60,"s":"12","d":3,"p":1},{"w":60,"s":"15","d":3,"p":1},{"w":60,"s":"11R","d":3,"p":1},{"w":60,"s":"8","d":3,"p":0},{"w":60,"s":"10","d":3,"p":0},{"w":60,"s":"13","d":3,"p":0},{"w":60,"s":"5","d":3,"p":0},{"w":60,"s":"1","d":3,"p":0},{"w":60,"s":"2","d":3,"p":1},{"w":60,"s":"xx","d":3},{"w":60,"s":"4","d":3,"p":0},
{"w":61,"s":"3","d":3,"p":1},{"w":61,"s":"9","d":3,"p":0},{"w":61,"s":"6","d":3,"p":0},{"w":61,"s":"7","d":3,"p":0},{"w":61,"s":"14","d":3,"p":1},{"w":61,"s":"12","d":3,"p":1},{"w":61,"s":"15","d":3,"p":1},{"w":61,"s":"11R","d":3,"p":1},{"w":61,"s":"8","d":3,"p":1},{"w":61,"s":"10","d":3,"p":1},{"w":61,"s":"13","d":3,"p":1},{"w":61,"s":"5","d":3,"p":1},{"w":61,"s":"1","d":3,"p":1},{"w":61,"s":"2","d":3,"p":0},{"w":61,"s":"xx","d":3},{"w":61,"s":"4","d":3,"p":0},
{"w":62,"s":"3","d":3,"p":0},{"w":62,"s":"9","d":3,"p":0},{"w":62,"s":"6","d":3,"p":1},{"w":62,"s":"7","d":3,"p":1},{"w":62,"s":"14","d":3,"p":1},{"w":62,"s":"12","d":3,"p":1},{"w":62,"s":"15","d":3,"p":1},{"w":62,"s":"11R","d":3,"p":0},{"w":62,"s":"8","d":3,"p":0},{"w":62,"s":"10","d":3,"p":0},{"w":62,"s":"13","d":3,"p":1},{"w":62,"s":"5","d":3,"p":1},{"w":62,"s":"1","d":3,"p":0},{"w":62,"s":"2","d":3,"p":1},{"w":62,"s":"xx","d":3},{"w":62,"s":"4","d":3,"p":1},
{"w":63,"s":"3","d":3,"p":1},{"w":63,"s":"9","d":3,"p":0},{"w":63,"s":"6","d":3,"p":1},{"w":63,"s":"7","d":3,"p":0},{"w":63,"s":"14","d":3,"p":0},{"w":63,"s":"12","d":3,"p":0},{"w":63,"s":"15","d":3,"p":0},{"w":63,"s":"11R","d":3,"p":0},{"w":63,"s":"8","d":3,"p":1},{"w":63,"s":"10","d":3,"p":1},{"w":63,"s":"13","d":3,"p":0},{"w":63,"s":"5","d":3,"p":0},{"w":63,"s":"1","d":3,"p":1},{"w":63,"s":"2","d":3,"p":0},{"w":63,"s":"xx","d":3},{"w":63,"s":"4","d":3,"p":1},
{"w":64,"s":"3","d":3,"p":0},{"w":64,"s":"9","d":4,"p":1},{"w":64,"s":"6","d":3,"p":1},{"w":64,"s":"7","d":3,"p":0},{"w":64,"s":"14","d":3,"p":0},{"w":64,"s":"12","d":3,"p":1},{"w":64,"s":"15","d":4,"p":1},{"w":64,"s":"11R","d":3,"p":1},{"w":64,"s":"8","d":3,"p":0},{"w":64,"s":"10","d":3,"p":0},{"w":64,"s":"13","d":3,"p":1},{"w":64,"s":"5","d":3,"p":1},{"w":64,"s":"1","d":3,"p":0},{"w":64,"s":"2","d":3,"p":1},{"w":64,"s":"xx","d":3},{"w":64,"s":"4","d":3,"p":0},
{"w":65,"s":"3","d":3,"p":0},{"w":65,"s":"9","d":3,"p":0},{"w":65,"s":"6","d":3,"p":1},{"w":65,"s":"7","d":3,"p":1},{"w":65,"s":"14","d":3,"p":1},{"w":65,"s":"12","d":3,"p":0},{"w":65,"s":"15","d":3,"p":0},{"w":65,"s":"11R","d":3,"p":1},{"w":65,"s":"8","d":3,"p":1},{"w":65,"s":"10","d":3,"p":0},{"w":65,"s":"13","d":3,"p":0},{"w":65,"s":"5","d":3,"p":1},{"w":65,"s":"1","d":3,"p":1},{"w":65,"s":"2","d":3,"p":1},{"w":65,"s":"xx","d":3},{"w":65,"s":"4","d":3,"p":0},
{"w":66,"s":"3","d":3,"p":0},{"w":66,"s":"9","d":3,"p":1},{"w":66,"s":"6","d":3,"p":0},{"w":66,"s":"7","d":3,"p":1},{"w":66,"s":"14","d":3,"p":0},{"w":66,"s":"12","d":3,"p":0},{"w":66,"s":"15","d":3,"p":1},{"w":66,"s":"11R","d":3,"p":0},{"w":66,"s":"8","d":3,"p":0},{"w":66,"s":"10","d":3,"p":1},{"w":66,"s":"13","d":3,"p":0},{"w":66,"s":"5","d":3,"p":0},{"w":66,"s":"1","d":3,"p":0},{"w":66,"s":"2","d":3,"p":0},{"w":66,"s":"xx","d":3},{"w":66,"s":"4","d":3,"p":1}
]},
"spacing":8,
"vconcat":[
{
 "title":{"text":"Median dxy","anchor":"start","frame":"group","fontSize":10,"offset":4},
 "width":473,"height":90,
 "mark":{"type":"rect","strokeWidth":0.6},
 "encoding":{
  "x":{"field":"w","type":"ordinal","scale":{"paddingInner":0,"paddingOuter":0},"axis":{"labels":false,"ticks":false,"title":"Window","titlePadding":4}},
  "y":{"field":"s","type":"nominal","sort":["3","9","6","7","14","12","15","11R","8","10","13","5","1","2","xx","4"],"scale":{"paddingInner":0,"paddingOuter":0},"axis":{"title":null,"labelExpr":"'MG114.' + datum.value","labelFontSize":7.4,"labelColor":"#4D4D4D","tickColor":"#333333","tickSize":2.5,"labelPadding":1,"labelOverlap":false,"labelBound":false}},
  "color":{"field":"d","type":"ordinal","title":"Pi/dxy","scale":{"domain":[0,1,2,3,4],"range":["#FFD700","#FAC000","#F4A500","#EE8A00","#E86C00"]},
   "legend":{"orient":"none","legendX":494,"legendY":62,"symbolType":"square","symbolSize":150,"symbolStrokeWidth":0,"symbolOpacity":1,"rowPadding":0.4,"labelFontSize":7,"titleFontSize":9,"titleFontWeight":"normal","titlePadding":4,"labelColor":"#000000","titleColor":"#000000","labelOffset":6,"labelExpr":"['(\u22120.01,0]','(0,0.001]','(0.001,0.0025]','(0.0025,0.005]','(0.005,0.01]'][datum.value]"}},
  "stroke":{"field":"d","type":"ordinal","scale":{"domain":[0,1,2,3,4],"range":["#FFD700","#FAC000","#F4A500","#EE8A00","#E86C00"]},"legend":null}
 }
},
{
 "title":{"text":"Median pi","anchor":"start","frame":"group","fontSize":10,"offset":4},
 "transform":[{"filter":"isValid(datum.p)"}],
 "width":473,"height":91,
 "mark":{"type":"rect","strokeWidth":0.6},
 "encoding":{
  "x":{"field":"w","type":"ordinal","scale":{"paddingInner":0,"paddingOuter":0},"axis":{"labels":false,"ticks":false,"title":"Window","titlePadding":4}},
  "y":{"field":"s","type":"nominal","sort":["3","9","6","7","14","12","15","11R","8","10","13","5","1","2","xx","4"],"scale":{"paddingInner":0,"paddingOuter":0},"axis":{"title":null,"labelExpr":"'MG114.' + datum.value","labelFontSize":7.4,"labelColor":"#4D4D4D","tickColor":"#333333","tickSize":2.5,"labelPadding":1,"labelOverlap":false,"labelBound":false}},
  "color":{"field":"p","type":"ordinal","title":"Pi/dxy","scale":{"domain":[0,1,2,3,4],"range":["#FFD700","#FAC000","#F4A500","#EE8A00","#E86C00"]}},
  "stroke":{"field":"p","type":"ordinal","scale":{"domain":[0,1,2,3,4],"range":["#FFD700","#FAC000","#F4A500","#EE8A00","#E86C00"]},"legend":null}
 }
}
],
"resolve":{"scale":{"color":"shared","stroke":"shared"}}
}
